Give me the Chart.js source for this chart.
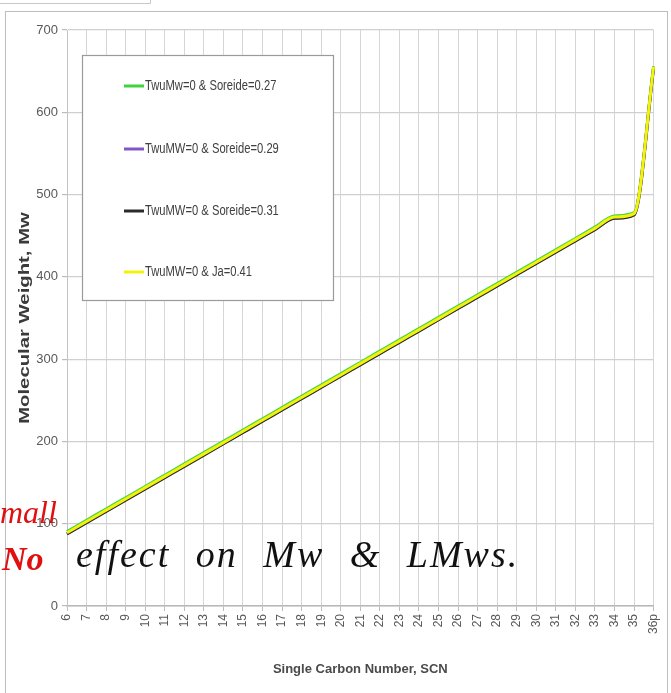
<!DOCTYPE html>
<html>
<head>
<meta charset="utf-8">
<script src="https://cdn.jsdelivr.net/npm/chart.js@4.4.1/dist/chart.umd.min.js"></script>
<style>
  html, body { margin: 0; padding: 0; background: #fff; }
  #wrap { position: relative; width: 671px; height: 693px; overflow: hidden; }
  #graph { position: absolute; left: 0; top: 0; }
  .note { position: absolute; font-family: "Liberation Serif", serif; font-style: italic; white-space: nowrap; }
</style>
</head>
<body>
<div id="wrap">
  <canvas id="graph" width="671" height="693"></canvas>
  <div class="note" style="left:76px; top:532px; font-size:38px; color:#111; word-spacing:14px; letter-spacing:2px;">effect on Mw &amp; LMws.</div>
  <div class="note" style="left:0px; top:494px; font-size:32px; color:#e01010;">mall</div>
  <div class="note" style="left:2px; top:540px; font-size:34px; color:#e01010; font-weight:bold;">No</div>
</div>
<script>
// Single carbon number categories
var scn = ['6','7','8','9','10','11','12','13','14','15','16','17','18','19','20',
           '21','22','23','24','25','26','27','28','29','30','31','32','33','34','35','36p'];

// Mw for every series (they nearly overlap)
var soreide027 = [90.5,104.2,117.9,131.6,145.3,159,172.7,186.4,200.1,213.8,227.5,241.2,254.9,268.6,282.3,296,309.7,323.4,337.1,350.8,364.5,378.2,391.9,405.6,419.3,433,446.7,460.4,474.1,478,656];
var soreide029 = [88,101.7,115.4,129.1,142.8,156.5,170.2,183.9,197.6,211.3,225,238.7,252.4,266.1,279.8,293.5,307.2,320.9,334.6,348.3,362,375.7,389.4,403.1,416.8,430.5,444.2,457.9,471.6,475.8,654];
var soreide031 = [87.5,101.2,114.9,128.6,142.3,156,169.7,183.4,197.1,210.8,224.5,238.2,251.9,265.6,279.3,293,306.7,320.4,334.1,347.8,361.5,375.2,388.9,402.6,416.3,430,443.7,457.4,471.1,475.3,653.5];
var ja041      = [89,102.7,116.4,130.1,143.8,157.5,171.2,184.9,198.6,212.3,226,239.7,253.4,267.1,280.8,294.5,308.2,321.9,335.6,349.3,363,376.7,390.4,404.1,417.8,431.5,445.2,458.9,472.6,476.8,655];

var seriesNames = ['TwuMw=0 & Soreide=0.27', 'TwuMW=0 & Soreide=0.29', 'TwuMW=0 & Soreide=0.31', 'TwuMW=0 & Ja=0.41'];
var seriesColors = ['#3fd43f', '#8455c8', '#2b2b2b', '#f2f20c'];
var yTicks = { min: 0, max: 700, step: 100 };

const sans = '"Liberation Sans", Arial, sans-serif';

// frame, legend box and the stretched y title
var extras = {
  id: 'extras',
  beforeDraw(chart) {
    var c = chart.ctx;
    c.save();
    c.fillStyle = '#fff';
    c.fillRect(0, 0, chart.width, chart.height);
    c.strokeStyle = '#c8c8c8';
    c.lineWidth = 1;
    c.beginPath();
    c.moveTo(0, 3.5); c.lineTo(150.5, 3.5); c.lineTo(150.5, 0);
    c.stroke();
    c.strokeStyle = '#bdbdbd';
    c.strokeRect(5.5, 11.5, 662, 690);
    c.restore();
  },
  afterDraw(chart) {
    var c = chart.ctx;
    c.save();
    // y axis title
    c.translate(25, 318);
    c.rotate(-Math.PI / 2);
    c.scale(1.45, 1);
    c.font = 'bold 14px ' + sans;
    c.fillStyle = '#3a3a3a';
    c.textAlign = 'center';
    c.textBaseline = 'middle';
    c.fillText('Molecular Weight, Mw', 0, 0);
    c.restore();

    // legend
    c.save();
    c.fillStyle = '#fff';
    c.fillRect(82, 55, 251, 245);
    c.strokeStyle = '#9a9a9a';
    c.lineWidth = 1.2;
    c.strokeRect(82.5, 55.5, 251, 245);
    c.textBaseline = 'middle';
    var rows = [86, 149, 211, 272];
    chart.data.datasets.forEach(function (ds, i) {
      c.strokeStyle = ds.borderColor;
      c.lineWidth = 3;
      c.beginPath();
      c.moveTo(124, rows[i]);
      c.lineTo(144, rows[i]);
      c.stroke();
      c.save();
      c.translate(145, rows[i]);
      c.scale(0.8, 1.05);
      c.font = '14px ' + sans;
      c.fillStyle = '#404040';
      c.fillText(ds.label, 0, 0);
      c.restore();
    });
    c.restore();
  }
};

var series = [soreide027, soreide029, soreide031, ja041];
var orders = [3, 2, 1, 0];

var g = document.getElementById('graph').getContext('2d');

var graph = new Chart(g, {
  type: 'line',
  data: {
    labels: scn,
    datasets: series.map(function (vals, i) {
      return {
        label: seriesNames[i],
        data: vals,
        borderColor: seriesColors[i],
        borderWidth: 3,
        pointRadius: 0,
        fill: false,
        cubicInterpolationMode: 'monotone',
        order: orders[i]
      };
    })
  },
  options: {
    responsive: false,
    animation: false,
    devicePixelRatio: 1,
    layout: { padding: { left: 12, right: 15, top: 30, bottom: 12 } },
    plugins: {
      legend: { display: false },
      tooltip: { enabled: false }
    },
    scales: {
      x: {
        type: 'category',
        offset: false,
        afterFit: function (s) { s.height = 75; },
        grid: { color: '#d6d6d6', lineWidth: 1, tickLength: 5, tickColor: '#bcbcbc' },
        border: { color: '#b8b8b8', width: 1.5 },
        ticks: {
          autoSkip: false, minRotation: 90, maxRotation: 90, padding: 3,
          color: '#595959', font: { family: sans, size: 12 }
        },
        title: {
          display: true, text: 'Single Carbon Number, SCN', color: '#4a4a4a',
          font: { family: sans, size: 13, weight: 'bold' }, padding: { top: 4, bottom: 4 }
        }
      },
      y: {
        min: yTicks.min,
        max: yTicks.max,
        afterFit: function (s) { s.width = 55; },
        grid: { color: '#d0d0d0', lineWidth: 1.2, tickLength: 5, tickColor: '#bcbcbc' },
        border: { color: '#c4c4c4', width: 1 },
        ticks: {
          stepSize: yTicks.step, padding: 4,
          color: '#595959', font: { family: sans, size: 13 }
        }
      }
    }
  },
  plugins: [extras]
});
</script>
</body>
</html>
